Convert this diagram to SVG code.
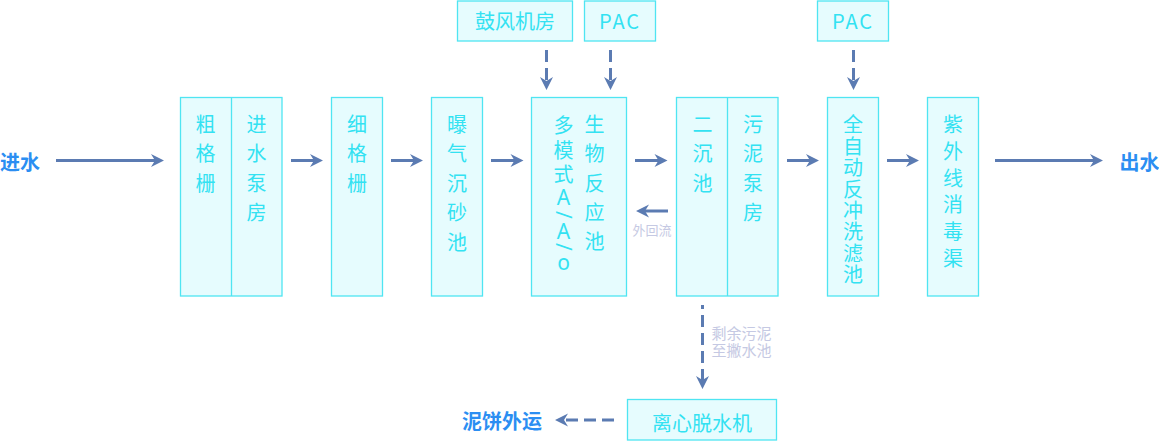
<svg xmlns="http://www.w3.org/2000/svg" width="1159" height="441" viewBox="0 0 1159 441">
<style>
.box{fill:#e6fcfe;stroke:#4fe5f2;stroke-width:1.3}
.div{stroke:#4fe5f2;stroke-width:1.3}
.t{font-family:"Noto Sans CJK SC","Noto Sans",sans-serif;font-size:20px;font-weight:400;fill:#33e2f2;text-anchor:middle;dominant-baseline:central}
.lat{font-family:"Noto Sans","Noto Sans CJK SC",sans-serif;font-size:21px;font-weight:400;fill:#33e2f2;text-anchor:middle;dominant-baseline:central}
.lbl{font-family:"Noto Sans CJK SC",sans-serif;font-size:20px;font-weight:700;fill:#2b8ef2;dominant-baseline:central}
.note{font-family:"Noto Sans CJK SC",sans-serif;fill:#c5c9e3;dominant-baseline:central}
.ln{fill:none;stroke:#5b7bb2;stroke-width:3;marker-end:url(#ah)}
.dash{stroke-dasharray:12 6}
</style>
<defs>
<marker id="ah" markerUnits="userSpaceOnUse" viewBox="-6 -7 15 14" refX="0" refY="0" markerWidth="15" markerHeight="14" orient="auto">
<path d="M8,0 L-5,-6.5 L-1,0 L-5,6.5 Z" fill="#5b7bb2"/>
</marker>
</defs>

<g id="connectors">
<line class="ln" x1="56" y1="160.5" x2="156" y2="160.5"/>
<line class="ln" x1="291" y1="160.5" x2="315" y2="160.5"/>
<line class="ln" x1="391" y1="160.5" x2="415" y2="160.5"/>
<line class="ln" x1="491" y1="160.5" x2="515.5" y2="160.5"/>
<line class="ln" x1="635" y1="160.5" x2="659.5" y2="160.5"/>
<line class="ln" x1="787" y1="160.5" x2="811" y2="160.5"/>
<line class="ln" x1="887" y1="160.5" x2="911" y2="160.5"/>
<line class="ln" x1="995" y1="160.5" x2="1095" y2="160.5"/>
<line class="ln" x1="668" y1="211" x2="644" y2="211"/>
<line class="ln dash" x1="546.5" y1="50" x2="546.5" y2="82"/>
<line class="ln dash" x1="610.5" y1="50" x2="610.5" y2="82"/>
<line class="ln dash" x1="853.5" y1="50" x2="853.5" y2="82"/>
<line class="ln dash" x1="702.5" y1="305" x2="702.5" y2="381" stroke-dashoffset="8"/>
<line class="ln dash" x1="614" y1="420" x2="563" y2="420"/>
<text class="note" x="652" y="229.5" font-size="13" text-anchor="middle">外回流</text>
<text class="note" x="711.5" y="332.5" font-size="15">剩余污泥</text>
<text class="note" x="711.5" y="349.5" font-size="15">至撇水池</text>
</g>

<g id="in-label"><text class="lbl" x="0" y="161">进水</text></g>
<g id="out-label"><text class="lbl" x="1119.5" y="161">出水</text></g>
<g id="cake-label"><text class="lbl" x="462" y="420">泥饼外运</text></g>

<g id="n-blower">
<rect class="box" x="457.5" y="1" width="115" height="40"/>
<text class="t" x="515" y="20.5">鼓风机房</text>
</g>
<g id="n-pac1">
<rect class="box" x="584.5" y="1" width="71" height="40"/>
<text class="t" x="620" y="20.5" font-size="19" letter-spacing="2">PAC</text>
</g>
<g id="n-pac2">
<rect class="box" x="817.5" y="1" width="71" height="40"/>
<text class="t" x="853" y="20.5" font-size="19" letter-spacing="2">PAC</text>
</g>

<g id="n-screen-pump">
<rect class="box" x="180.5" y="97.5" width="101.5" height="198.5"/>
<line class="div" x1="231.5" y1="97.5" x2="231.5" y2="296"/>
<text class="t"><tspan x="205.5" y="123">粗</tspan><tspan x="205.5" y="152.3">格</tspan><tspan x="205.5" y="181.6">栅</tspan></text>
<text class="t"><tspan x="256.5" y="123">进</tspan><tspan x="256.5" y="152.3">水</tspan><tspan x="256.5" y="181.6">泵</tspan><tspan x="256.5" y="210.9">房</tspan></text>
</g>

<g id="n-fine">
<rect class="box" x="331.5" y="97.5" width="51" height="198.5"/>
<text class="t"><tspan x="357" y="123">细</tspan><tspan x="357" y="152.3">格</tspan><tspan x="357" y="181.6">栅</tspan></text>
</g>

<g id="n-grit">
<rect class="box" x="431.5" y="97.5" width="51" height="198.5"/>
<text class="t"><tspan x="457" y="122.5">曝</tspan><tspan x="457" y="152">气</tspan><tspan x="457" y="181.5">沉</tspan><tspan x="457" y="211">砂</tspan><tspan x="457" y="240.5">池</tspan></text>
</g>

<g id="n-aao">
<rect class="box" x="531.5" y="97.5" width="95" height="198.5"/>
<text class="t"><tspan x="563.5" y="124">多</tspan><tspan x="563.5" y="148.5">模</tspan><tspan x="563.5" y="172.5">式</tspan></text>
<text class="lat" x="563.5" y="197">A</text>
<text class="lat" x="563.5" y="215" transform="rotate(90 563.5 215)">/</text>
<text class="lat" x="563.5" y="231">A</text>
<text class="lat" x="563.5" y="247" transform="rotate(90 563.5 247)">/</text>
<text class="lat" x="563.5" y="262">o</text>
<text class="t"><tspan x="594.5" y="123">生</tspan><tspan x="594.5" y="152.3">物</tspan><tspan x="594.5" y="181.6">反</tspan><tspan x="594.5" y="210.9">应</tspan><tspan x="594.5" y="240.2">池</tspan></text>
</g>

<g id="n-clarifier">
<rect class="box" x="676.5" y="97.5" width="101.5" height="198.5"/>
<line class="div" x1="727.5" y1="97.5" x2="727.5" y2="296"/>
<text class="t"><tspan x="702.5" y="123">二</tspan><tspan x="702.5" y="152.3">沉</tspan><tspan x="702.5" y="181.6">池</tspan></text>
<text class="t"><tspan x="753" y="123">污</tspan><tspan x="753" y="152.3">泥</tspan><tspan x="753" y="181.6">泵</tspan><tspan x="753" y="210.9">房</tspan></text>
</g>

<g id="n-filter">
<rect class="box" x="827.5" y="97.5" width="51" height="198.5"/>
<text class="t"><tspan x="853" y="123.3">全</tspan><tspan x="853" y="144.7">自</tspan><tspan x="853" y="166.1">动</tspan><tspan x="853" y="187.5">反</tspan><tspan x="853" y="208.9">冲</tspan><tspan x="853" y="230.3">洗</tspan><tspan x="853" y="251.7">滤</tspan><tspan x="853" y="273.1">池</tspan></text>
</g>

<g id="n-uv">
<rect class="box" x="927.5" y="97.5" width="51" height="198.5"/>
<text class="t"><tspan x="953" y="123.3">紫</tspan><tspan x="953" y="150">外</tspan><tspan x="953" y="176.7">线</tspan><tspan x="953" y="203.4">消</tspan><tspan x="953" y="230.1">毒</tspan><tspan x="953" y="256.8">渠</tspan></text>
</g>

<g id="n-dewater">
<rect class="box" x="627.5" y="399.5" width="149" height="40.5"/>
<text class="t" x="702" y="422">离心脱水机</text>
</g>
</svg>
